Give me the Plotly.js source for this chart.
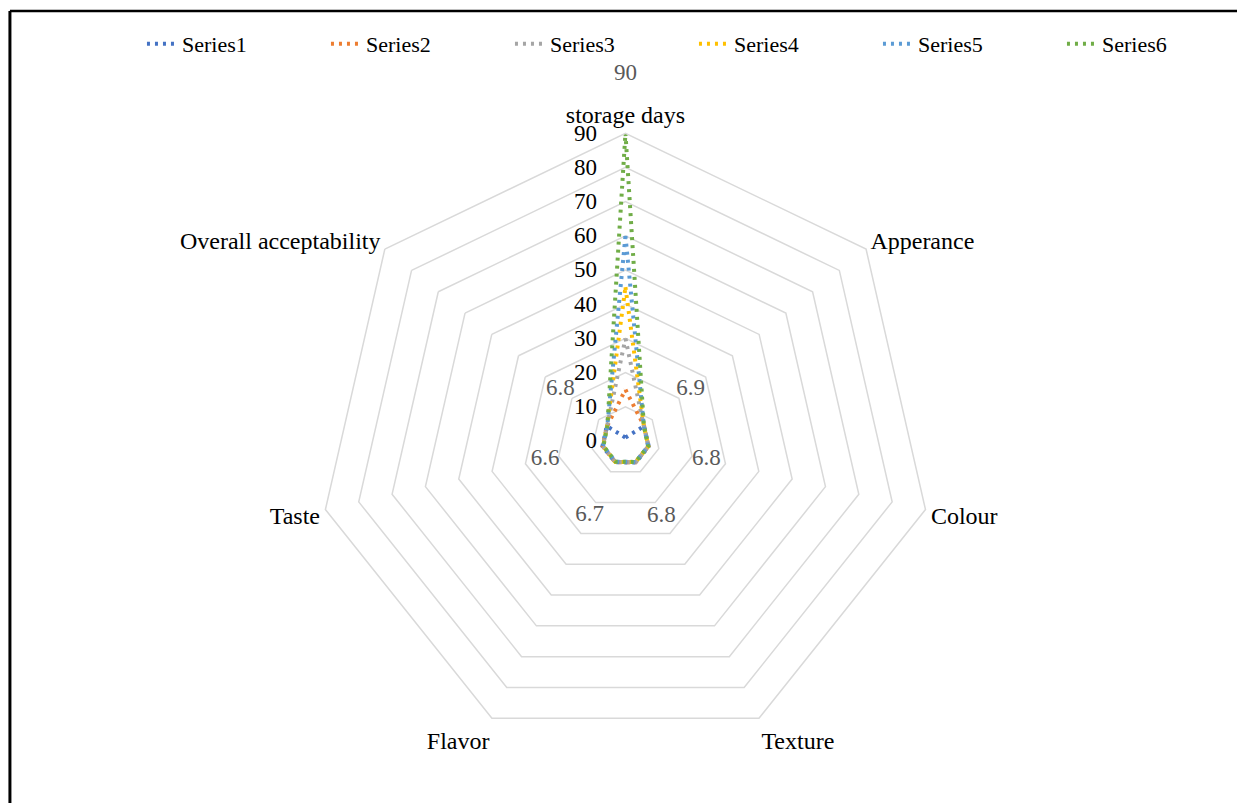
<!DOCTYPE html>
<html>
<head>
<meta charset="utf-8">
<script src="https://cdn.plot.ly/plotly-3.0.1.min.js"></script>
<style>html,body{margin:0;padding:0;background:#fff;}#chart{width:1246px;height:803px;}</style>
</head>
<body>
<div id="chart"></div>
<script>
// ---- data ----
const categories = ['storage days', 'Apperance', 'Colour', 'Texture', 'Flavor', 'Taste', 'Overall acceptability'];
const seriesNames = ['Series1', 'Series2', 'Series3', 'Series4', 'Series5', 'Series6'];
const series1 = [1, 7.0, 7.0, 7.0, 6.9, 6.9, 7.0];
const series2 = [15, 7.0, 6.9, 6.9, 6.9, 6.8, 6.9];
const series3 = [30, 6.9, 6.9, 6.9, 6.8, 6.8, 6.9];
const series4 = [45, 6.9, 6.9, 6.8, 6.8, 6.7, 6.9];
const series5 = [60, 6.9, 6.8, 6.8, 6.7, 6.7, 6.8];
const series6 = [90, 6.9, 6.8, 6.8, 6.7, 6.6, 6.8];
const radialTicks = [0, 10, 20, 30, 40, 50, 60, 70, 80, 90];

// ---- style ----
const colors = ['#4472C4', '#ED7D31', '#A5A5A5', '#FFC000', '#5B9BD5', '#70AD47'];
const FONT = "'Liberation Serif', 'Times New Roman', serif";
const LABEL_OFFSET = 17.5; // data-label standoff in radial units

const allSeries = [series1, series2, series3, series4, series5, series6];
const closedTheta = categories.concat([categories[0]]);

const traces = allSeries.map((s, i) => ({
  type: 'scatterpolar',
  mode: 'lines',
  name: seriesNames[i],
  r: s.concat([s[0]]),
  theta: closedTheta,
  line: {color: colors[i], width: 4, dash: '3px,5px'},
  hoverinfo: 'skip'
}));

// data labels for Series6 (sensory axes)
traces.push({
  type: 'scatterpolar',
  mode: 'text',
  showlegend: false,
  r: series6.slice(1).map(v => v + LABEL_OFFSET),
  theta: categories.slice(1),
  text: series6.slice(1).map(v => String(v)),
  textposition: 'middle center',
  textfont: {family: FONT, size: 23, color: '#595959'},
  cliponaxis: false,
  hoverinfo: 'skip'
});
// data label for Series6 storage days (outside the radial range, so lifted above its point)
traces.push({
  type: 'scatterpolar',
  mode: 'markers+text',
  showlegend: false,
  r: [series6[0]],
  theta: [categories[0]],
  text: [String(series6[0]) + '<br> '],
  textposition: 'top center',
  marker: {size: 26, color: 'rgba(0,0,0,0)'},
  textfont: {family: FONT, size: 23, color: '#595959'},
  cliponaxis: false,
  hoverinfo: 'skip'
});

const W = 1246, H = 803, CX = 630, CY = 441, R = 310;

const layout = {
  width: W, height: H,
  margin: {l: 0, r: 0, t: 0, b: 0},
  paper_bgcolor: '#ffffff',
  font: {family: FONT, size: 23, color: '#000'},
  showlegend: true,
  legend: {
    orientation: 'h', x: 143 / W, xanchor: 'left', y: (H - 44) / H, yanchor: 'middle',
    font: {family: FONT, size: 22, color: '#000'},
    bgcolor: 'rgba(0,0,0,0)',
    entrywidth: 139, entrywidthmode: 'pixels'
  },
  polar: {
    domain: {x: [(CX - R) / W, (CX + R) / W], y: [(H - CY - R) / H, (H - CY + R) / H]},
    bgcolor: 'rgba(0,0,0,0)',
    gridshape: 'linear',
    angularaxis: {
      type: 'category',
      categoryarray: categories,
      rotation: 90,
      direction: 'clockwise',
      showgrid: false,
      showline: true,
      linecolor: '#d9d9d9',
      linewidth: 1.5,
      ticks: '',
      tickfont: {family: FONT, size: 24, color: '#000'}
    },
    radialaxis: {
      range: [0, 90],
      tickvals: radialTicks,
      ticktext: radialTicks.map(String),
      angle: 90,
      tickangle: 90,
      side: 'counterclockwise',
      showline: false,
      showgrid: true,
      gridcolor: '#d9d9d9',
      gridwidth: 1.5,
      ticks: 'outside',
      ticklen: 20,
      tickcolor: 'rgba(0,0,0,0)',
      tickfont: {family: FONT, size: 23, color: '#000'}
    }
  },
  shapes: [
    {type: 'line', xref: 'paper', yref: 'paper', x0: 10 / W, x1: 1, y0: (H - 11) / H, y1: (H - 11) / H, line: {color: '#000', width: 2.5}},
    {type: 'line', xref: 'paper', yref: 'paper', x0: 10 / W, x1: 10 / W, y0: 0, y1: (H - 11) / H, line: {color: '#000', width: 3}}
  ]
};

Plotly.newPlot('chart', traces, layout, {displayModeBar: false, staticPlot: true});
</script>
</body>
</html>
